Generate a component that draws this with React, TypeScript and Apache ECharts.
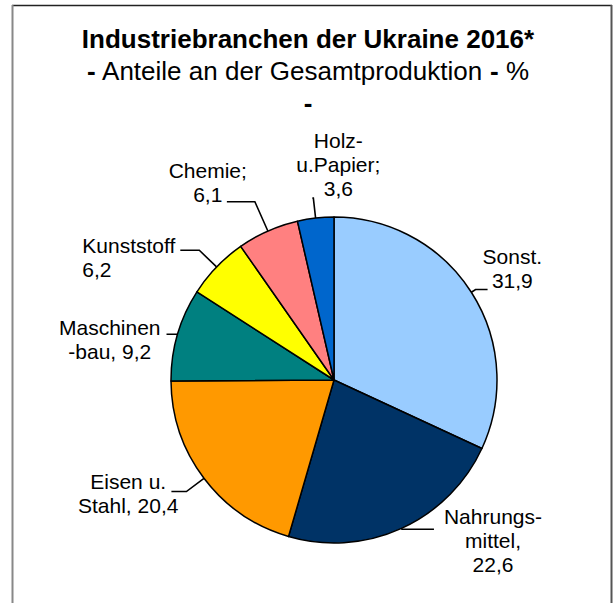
import React, { useEffect, useRef } from "react";
import * as echarts from "echarts";

// ---- data ----
const categories = [
  "Sonst.",
  "Nahrungsmittel",
  "Eisen u. Stahl",
  "Maschinenbau",
  "Kunststoff",
  "Chemie",
  "Holz u. Papier",
];
const values = [31.9, 22.6, 20.4, 9.2, 6.2, 6.1, 3.6];
const labelPrefixes = [
  "Sonst.\n",
  "Nahrungs-\nmittel,\n",
  "Eisen u.\nStahl, ",
  "Maschinen\n-bau, ",
  "Kunststoff\n",
  "Chemie;\n",
  "Holz-\nu.Papier;\n",
];
const titleLine = "Industriebranchen der Ukraine 2016*";
const subtitleText = "Anteile an der Gesamtproduktion";
const unitText = "%";

// ---- styles ----
const colors = ["#99CCFF", "#003366", "#FF9900", "#008080", "#FFFF00", "#FF8080", "#0066CC"];
const FONT = "'Liberation Sans', Arial, Helvetica, sans-serif";
// per-label layout tweaks: [length, length2, distance, padTop, padBottom, richKey]
const labelCfg: [number, number, number, number, number, string][] = [
  [5, 12, -5, 0, 43, "c"],
  [1, 32, 10, 22, 0, "c"],
  [22, 15, -7, 3, 0, "c"],
  [1, 10, 6, 10, 0, "c"],
  [24, 19, 5, 14, 0, "l"],
  [32, 28, -20, 0, 38, "c"],
  [20, 1, -68, 0, 68, "c"],
];

const fmt = (v: number) => v.toFixed(1).replace(".", ",");

export default function App() {
  const ref = useRef<HTMLDivElement>(null);
  useEffect(() => {
    if (!ref.current) return;
    const chart = echarts.init(ref.current, null, { renderer: "svg" });
    const labelStyle = { fontSize: 21, lineHeight: 24, color: "#000", fontFamily: FONT };
    chart.setOption({
      animation: false,
      backgroundColor: "#fff",
      title: {
        text:
          "{t|" + titleLine + "}\n{d|-}{s| " + subtitleText + " }{d|-}{s| " + unitText + "}\n{d|-}",
        left: "center",
        top: 23,
        padding: 0,
        textStyle: {
          fontWeight: "normal",
          rich: {
            t: { fontSize: 26, fontWeight: "bold", lineHeight: 32, color: "#000", fontFamily: FONT },
            s: { fontSize: 26, fontWeight: "normal", lineHeight: 32, color: "#000", fontFamily: FONT },
            d: { fontSize: 26, fontWeight: "bold", lineHeight: 32, color: "#000", fontFamily: FONT },
          },
        },
      },
      graphic: [
        { type: "line", shape: { x1: 12, y1: 5.5, x2: 612, y2: 5.5 }, style: { stroke: "#222", lineWidth: 1.5 } },
        { type: "line", shape: { x1: 12.5, y1: 5, x2: 12.5, y2: 603 }, style: { stroke: "#888", lineWidth: 2 } },
        { type: "line", shape: { x1: 611.5, y1: 5, x2: 611.5, y2: 603 }, style: { stroke: "#555", lineWidth: 2 } },
      ],
      series: [
        {
          type: "pie",
          center: [334, 380],
          radius: 163,
          startAngle: 90,
          clockwise: true,
          avoidLabelOverlap: false,
          silent: true,
          emphasis: { disabled: true },
          itemStyle: { borderColor: "#000", borderWidth: 1.5 },
          label: {
            show: true,
            position: "outside",
            alignTo: "none",
            fontFamily: FONT,
            rich: {
              c: { ...labelStyle, align: "center" },
              l: { ...labelStyle, align: "left" },
            },
          },
          labelLine: {
            show: true,
            minTurnAngle: 0,
            maxSurfaceAngle: 180,
            lineStyle: { color: "#000", width: 1.6 },
          },
          data: categories.map((name, i) => {
            const [len, len2, dist, pt, pb, key] = labelCfg[i];
            return {
              name,
              value: values[i],
              itemStyle: { color: colors[i] },
              label: {
                formatter: "{" + key + "|" + labelPrefixes[i] + fmt(values[i]) + "}",
                distanceToLabelLine: dist,
                padding: [pt, 0, pb, 0],
              },
              labelLine: { length: len, length2: len2 },
            };
          }),
        },
      ],
    });
    return () => chart.dispose();
  }, []);
  return (
    <div
      ref={ref}
      style={{ position: "absolute", left: 0, top: 0, width: 616, height: 603 }}
    />
  );
}
